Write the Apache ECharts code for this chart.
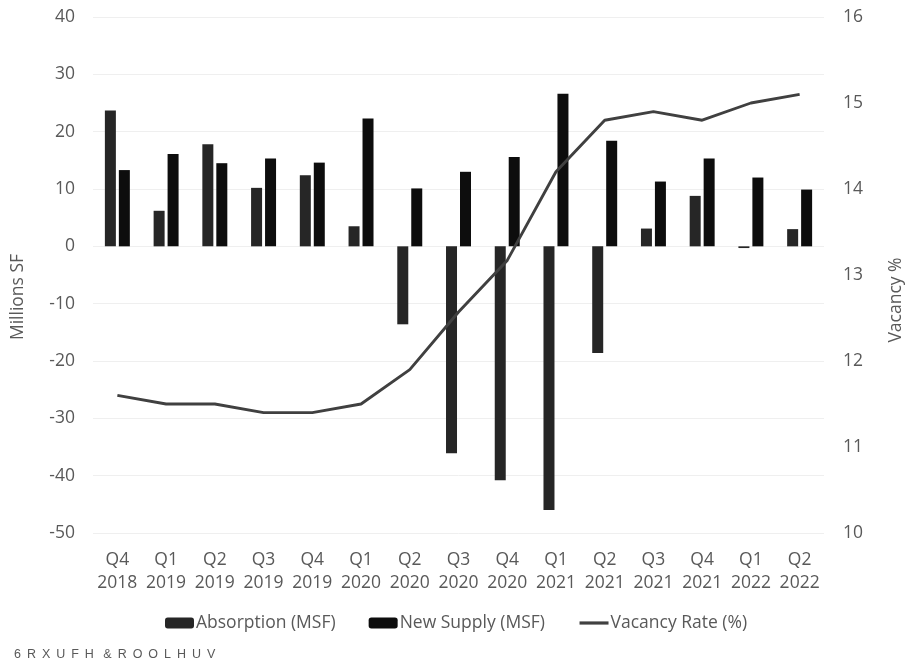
<!DOCTYPE html>
<html>
<head>
<meta charset="utf-8">
<script src="https://cdn.jsdelivr.net/npm/echarts@6/dist/echarts.min.js"></script>
<style>html,body{margin:0;padding:0;background:#fff;}#c{width:914px;height:666px;}</style>
</head>
<body>
<div id="c"></div>
<script>
const categories = ['Q4\n2018','Q1\n2019','Q2\n2019','Q3\n2019','Q4\n2019','Q1\n2020','Q2\n2020','Q3\n2020','Q4\n2020','Q1\n2021','Q2\n2021','Q3\n2021','Q4\n2021','Q1\n2022','Q2\n2022'];
const absorption = [23.7, 6.2, 17.8, 10.2, 12.4, 3.5, -13.6, -36.1, -40.8, -46.0, -18.6, 3.1, 8.8, -0.3, 3.0];
const newSupply = [13.3, 16.1, 14.5, 15.3, 14.6, 22.3, 10.1, 13.0, 15.6, 26.6, 18.4, 11.3, 15.3, 12.0, 9.9];
const vacancyRate = [11.6, 11.5, 11.5, 11.4, 11.4, 11.5, 11.9, 12.57, 13.17, 14.2, 14.8, 14.9, 14.8, 15.0, 15.1];
const seriesNames = ['Absorption (MSF)', 'New Supply (MSF)', 'Vacancy Rate (%)'];
const leftAxisName = 'Millions SF';
const rightAxisName = 'Vacancy %';
const sourceWords = ['6RXUFH', '&ROOLHUV'];

const FONT = '"Open Sans", sans-serif';
const TXT = '#595959';
const SEP = ' \u2009';
const sourceText = sourceWords.map(w => w.split('').join(SEP)).join('  \u2009');

const chart = echarts.init(document.getElementById('c'), null, {renderer: 'canvas'});
chart.setOption({
  animation: false,
  backgroundColor: '#ffffff',
  textStyle: {fontFamily: FONT},
  grid: {left: 93, right: 90, top: 17, bottom: 133, containLabel: false},
  legend: {
    data: [
      {name: seriesNames[0]},
      {name: seriesNames[1]},
      {name: seriesNames[2], itemStyle: {opacity: 0}, lineStyle: {width: 3.2, color: '#404040'}}
    ],
    left: 165, top: 614, padding: 0,
    itemWidth: 29, itemHeight: 11, itemGap: 33,
    textStyle: {fontFamily: FONT, fontSize: 17.5, color: TXT, padding: [0, 0, 0, -3]}
  },
  xAxis: {
    type: 'category',
    data: categories,
    axisLine: {show: false},
    axisTick: {show: false},
    axisLabel: {fontFamily: FONT, fontSize: 17.5, color: TXT, lineHeight: 23, margin: 16, interval: 0}
  },
  yAxis: [
    {
      type: 'value', min: -50, max: 40, interval: 10,
      axisLine: {show: false}, axisTick: {show: false},
      axisLabel: {fontFamily: FONT, fontSize: 17.5, color: TXT, margin: 18},
      splitLine: {lineStyle: {color: '#efefef', width: 1}}
    },
    {
      type: 'value', min: 10, max: 16, interval: 1,
      axisLine: {show: false}, axisTick: {show: false},
      axisLabel: {fontFamily: FONT, fontSize: 17.5, color: TXT, margin: 19},
      splitLine: {show: false}
    }
  ],
  series: [
    {
      name: seriesNames[0], type: 'bar', data: absorption, yAxisIndex: 0,
      barWidth: 11, barGap: '27%',
      itemStyle: {color: '#262626'}
    },
    {
      name: seriesNames[1], type: 'bar', data: newSupply, yAxisIndex: 0,
      barWidth: 11, barGap: '27%',
      itemStyle: {color: '#0d0d0d'}
    },
    {
      name: seriesNames[2], type: 'line', data: vacancyRate, yAxisIndex: 1,
      symbol: 'none', showSymbol: false,
      lineStyle: {color: '#404040', width: 2.9},
      itemStyle: {color: '#404040'}
    }
  ],
  graphic: [
    {
      type: 'text', x: 18, y: 297, rotation: Math.PI / 2,
      style: {text: leftAxisName, fontFamily: FONT, fontSize: 17.5, fill: TXT, align: 'center', verticalAlign: 'middle'}
    },
    {
      type: 'text', x: 896, y: 300, rotation: Math.PI / 2,
      style: {text: rightAxisName, fontFamily: FONT, fontSize: 17.5, fill: TXT, align: 'center', verticalAlign: 'middle'}
    },
    {
      type: 'text', x: 14, y: 655,
      style: {text: sourceText, fontFamily: '"Liberation Sans", Arial, sans-serif', fontSize: 12.5, fill: TXT, align: 'left', verticalAlign: 'middle'}
    }
  ]
});
</script>
</body>
</html>
